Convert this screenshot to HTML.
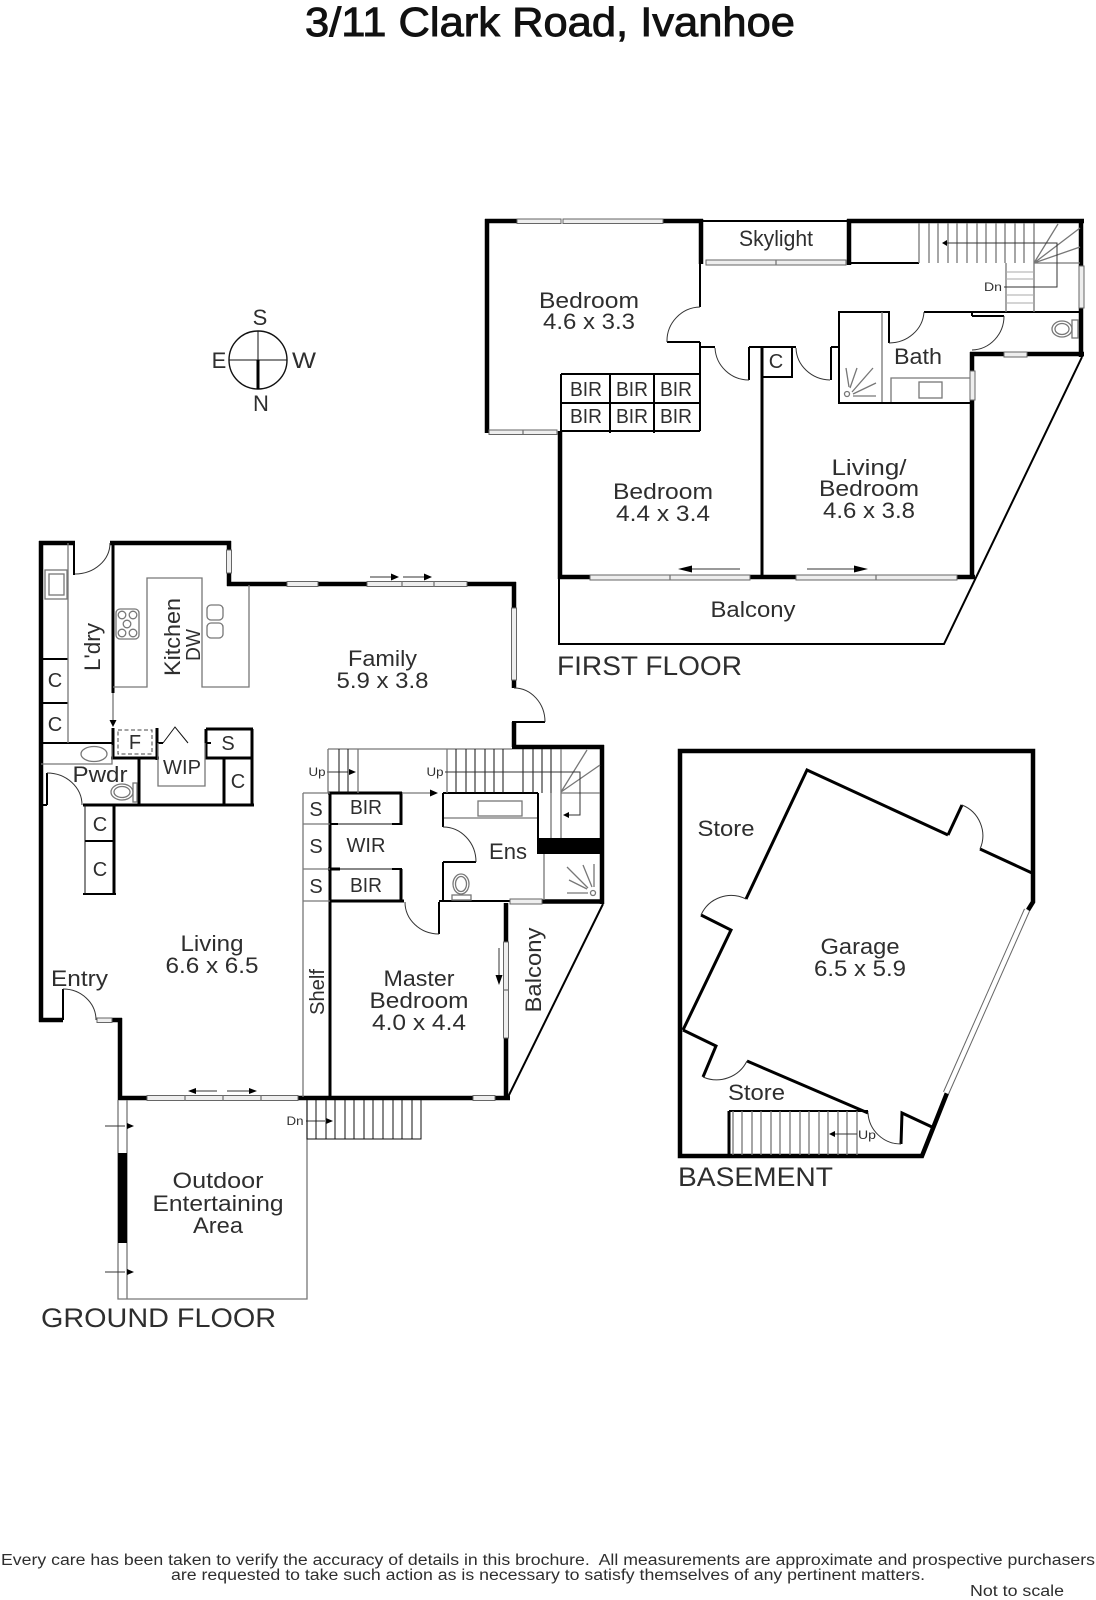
<!DOCTYPE html>
<html lang="en">
<head>
<meta charset="utf-8">
<title>3/11 Clark Road, Ivanhoe</title>
<style>
html,body{margin:0;padding:0;background:#fff}
svg{display:block}
text{font-family:"Liberation Sans",sans-serif;fill:#2e2e2e;text-anchor:middle}
.l{font-size:22px}
.s{font-size:20px}
.f{font-size:27px;text-anchor:start}
.u{font-size:12px}
.fn{font-size:15.5px;text-anchor:start}
.t{stroke:#000;stroke-width:4.5;fill:none}
.m{stroke:#000;stroke-width:3;fill:none}
.n{stroke:#000;stroke-width:2;fill:none}
.h{stroke:#111;stroke-width:1;fill:none}
.g{stroke:#777;stroke-width:1.3;fill:none}
.a{stroke:#333;stroke-width:1;fill:none}
.w{fill:#eee;stroke:#666;stroke-width:1}
.b{fill:#000;stroke:none}
</style>
</head>
<body>
<svg xmlns="http://www.w3.org/2000/svg" width="1096" height="1600" viewBox="0 0 1096 1600">
<rect width="1096" height="1600" fill="#fff"/>

<!-- Title -->
<text x="550" y="36" font-size="41" textLength="490" lengthAdjust="spacingAndGlyphs" style="fill:#111;stroke:#111;stroke-width:.9">3/11 Clark Road, Ivanhoe</text>

<!-- Compass -->
<circle cx="258" cy="360" r="29" fill="none" stroke="#111" stroke-width="1.4"/>
<path class="h" d="M229 360H287M258 331V360"/>
<path class="m" d="M258 360V389"/>
<text class="l" x="260" y="325">S</text>
<text class="l" x="219" y="368">E</text>
<text class="l" x="304" y="368" textLength="24" lengthAdjust="spacingAndGlyphs">W</text>
<text class="l" x="261" y="411">N</text>

<!-- ============ FIRST FLOOR ============ -->
<g>
<path class="t" d="M487 433V219M485 221H517M663 221H703M701 219V264M849 219V265M847 221H1084M1081 219V266M1081 308V357M970 354H1004M1027 354H1084M972 352V371M972 400V579M558 577H590M750 577H796M957 577H975M560 431V579"/>
<path class="n" d="M701 221H849M849 263H919M700 263V307M700 342V374M667 342H700M700 347H715M749 347V380M749 347H764M796 347H792M831 347V380M831 347H839M839 311V404M838 312H889M889 311V343M924 312H1080M838 403H972M972 311V316M972 316H1004M763 377H792V347H763"/>
<path class="m" d="M762 347V578"/>
<path class="n" d="M561 374H700M561 403H700M561 431H700M561 374V431M610 373V433M654 373V433M700 374V431"/>
<path class="n" d="M559 577V644H944L1082 357"/>
<!-- windows first floor -->
<rect class="w" x="517" y="219" width="44" height="4.5"/>
<rect class="w" x="563" y="219" width="100" height="4.5"/>
<rect class="w" x="706" y="260" width="140" height="5"/>
<path class="g" d="M776 260V265"/>
<rect class="w" x="489" y="430" width="68" height="4.5"/>
<path class="g" d="M523 430V434"/>
<rect class="w" x="1079" y="266" width="5" height="42"/>
<rect class="w" x="1004" y="352" width="23" height="5"/>
<rect class="w" x="970" y="371" width="5" height="29"/>
<rect class="w" x="590" y="575" width="160" height="5"/>
<path class="g" d="M670 575V580"/>
<rect class="w" x="796" y="575" width="161" height="5"/>
<path class="g" d="M876 575V580"/>
<!-- arrows -->
<path class="a" d="M740 569H690M807 569H856"/>
<polygon class="b" points="678,569 692,565.5 692,572.5"/>
<polygon class="b" points="868,569 854,565.5 854,572.5"/>
<!-- doors -->
<path class="a" d="M700 307A34 34 0 0 0 667 342M715 348A34 34 0 0 0 749 380M796 348A35 33 0 0 0 830 380M889 343A35 33 0 0 0 924 312M1004 316A33 34 0 0 1 972 350"/>
<!-- stairs -->
<path class="g" d="M919 223V263M929 223V263M938 223V263M948 223V263M957 223V263M967 223V263M977 223V263M986 223V263M996 223V263M1005 223V263M1015 223V263M1024 223V263M1034 223V263M1034 263L1058 224M1034 263L1080 228M1034 263L1080 247M1034 263H1080M1006 263V312M1034 263V312"/>
<path stroke="#aaa" stroke-width="1" fill="none" d="M1006 272H1034M1006 279H1034M1006 287H1034M1006 295H1034M1006 303H1034"/>
<path class="a" d="M944 243H1057V287H1004"/>
<polygon class="b" points="942,243 947,240 947,246"/>
<text class="u" x="993" y="291" textLength="18" lengthAdjust="spacingAndGlyphs">Dn</text>
<!-- bath -->
<path class="g" d="M882 312V402M891 402V378H970"/>
<rect class="g" x="919" y="382" width="23" height="16"/>
<path class="g" d="M846 368L849 387M857 368L850 388M873 368L852 392M876 383L853 394M876 396H853"/>
<circle class="g" cx="847" cy="394" r="2.5"/>
<ellipse class="g" cx="1062" cy="329" rx="10" ry="8"/>
<ellipse class="g" cx="1062" cy="329" rx="7" ry="5.5"/>
<rect class="g" x="1072" y="320" width="6" height="18"/>
<!-- text -->
<text class="l" x="776" y="246" font-size="20" textLength="74" lengthAdjust="spacingAndGlyphs">Skylight</text>
<text class="l" x="589" y="308" textLength="100" lengthAdjust="spacingAndGlyphs">Bedroom</text>
<text class="l" x="589" y="329" textLength="92" lengthAdjust="spacingAndGlyphs">4.6 x 3.3</text>
<text class="s" x="586" y="396" textLength="32" lengthAdjust="spacingAndGlyphs">BIR</text>
<text class="s" x="632" y="396" textLength="32" lengthAdjust="spacingAndGlyphs">BIR</text>
<text class="s" x="676" y="396" textLength="32" lengthAdjust="spacingAndGlyphs">BIR</text>
<text class="s" x="586" y="423" textLength="32" lengthAdjust="spacingAndGlyphs">BIR</text>
<text class="s" x="632" y="423" textLength="32" lengthAdjust="spacingAndGlyphs">BIR</text>
<text class="s" x="676" y="423" textLength="32" lengthAdjust="spacingAndGlyphs">BIR</text>
<text class="s" x="776" y="368">C</text>
<text class="l" x="918" y="364" textLength="48" lengthAdjust="spacingAndGlyphs">Bath</text>
<text class="l" x="663" y="499" textLength="100" lengthAdjust="spacingAndGlyphs">Bedroom</text>
<text class="l" x="663" y="521" textLength="94" lengthAdjust="spacingAndGlyphs">4.4 x 3.4</text>
<text class="l" x="869" y="475" textLength="75" lengthAdjust="spacingAndGlyphs">Living/</text>
<text class="l" x="869" y="496" textLength="100" lengthAdjust="spacingAndGlyphs">Bedroom</text>
<text class="l" x="869" y="518" textLength="92" lengthAdjust="spacingAndGlyphs">4.6 x 3.8</text>
<text class="l" x="753" y="617" textLength="85" lengthAdjust="spacingAndGlyphs">Balcony</text>
<text class="f" x="557" y="675" textLength="185" lengthAdjust="spacingAndGlyphs">FIRST FLOOR</text>
</g>

<!-- ============ GROUND FLOOR ============ -->
<g>
<path class="t" d="M41 541V1022M39 1020H63M112 1020H122M120 1018V1100M118 1098H147M298 1098H473M495 1098H510M506 903V942M506 1038V1100"/>
<path class="t" d="M39 543H75M110 543H231M229 541V550M229 573V586M227 584H287M318 584H367M467 584H516M514 582V608M514 680V688M514 722V747M512 747H604M602 745V904M542 901.5H604"/>
<rect class="b" x="537" y="838" width="63" height="16"/>
<path class="m" d="M113 543V693M113 728V758M111 758H159M157 728V760M139 758V805M83 805H254M114 805V895M224 758V805M252 729V806M206 729H253M206 729V758H252M330 793V1098M328 793H402M401 792V825M401 869V901M328 869H340M330 901H404"/>
<path class="n" d="M43 659H68M43 703H68M41 743H112M74 543V575M63 1020V989M47 773V805M42 805H47M83 894H116M85 841H114M512 722H545M443 793H538M538 793V838M443 793V827M443 862V901M443 862H476M439 902V934M439 901H510M163 743H157M205 743H211"/>
<!-- Thin outlines -->
<path class="n" d="M330 824H338M392 824H402M330 869H340M392 869H402"/>
<path class="h" d="M338 824H392M340 869H392M85 805V894"/>
<path class="g" d="M68 543V743M41 764H112V745M158 743V786H205V743M113 687H147V578H202V687H249V585M303 793H330M303 824H330M303 869H330M303 901H330M303 793V1097M328 749H512M444 818H537M544 854V900M118 1100V1299H307V1100M127 1100V1299"/>
<rect class="g" x="45" y="570" width="22" height="29"/>
<rect class="g" x="49" y="574" width="15" height="21"/>
<rect x="116" y="609" width="23" height="30" rx="4" class="g"/>
<circle class="g" cx="122" cy="615" r="3.8"/>
<circle class="g" cx="133" cy="615" r="3.8"/>
<circle class="g" cx="127" cy="624" r="3.8"/>
<circle class="g" cx="122" cy="633" r="3.8"/>
<circle class="g" cx="133" cy="633" r="3.8"/>
<rect class="g" x="207" y="605" width="16" height="15" rx="4"/>
<rect class="g" x="207" y="623" width="16" height="15" rx="4"/>
<rect x="118" y="730" width="34" height="24" fill="none" stroke="#444" stroke-width="1" stroke-dasharray="4 2.5"/>
<path class="g" d="M113 693V720"/>
<polygon class="b" points="109.500,720 116.500,720 113,727"/>
<path class="h" d="M163 743L175 727L188 743"/>
<ellipse class="g" cx="94" cy="754" rx="13" ry="7.5"/>
<ellipse class="g" cx="122" cy="792" rx="11" ry="8"/>
<ellipse class="g" cx="122" cy="792" rx="8" ry="5.5"/>
<rect class="g" x="133" y="783" width="4" height="19"/>
<!-- doors -->
<path class="a" d="M75 574A35 31 0 0 0 110 543M514 688A31 34 0 0 1 545 722M443 827A33 35 0 0 1 476 862M405 902A34 32 0 0 0 439 934M47 773A35 32 0 0 1 82 805M63 989A33 31 0 0 1 96 1020"/>
<!-- windows -->
<rect class="w" x="226.500" y="550" width="5" height="23"/>
<rect class="w" x="287" y="581.500" width="31" height="5"/>
<rect class="w" x="367" y="581.500" width="100" height="5"/>
<path class="g" d="M402 581.500V586.500M434 581.500V586.500"/>
<rect class="w" x="511.500" y="608" width="5" height="72"/>
<rect class="w" x="97" y="1018" width="15" height="4.500"/>
<rect class="w" x="147" y="1095.500" width="151" height="5"/>
<path class="g" d="M185 1095.500V1100.500M223 1095.500V1100.500M261 1095.500V1100.500"/>
<rect class="w" x="473" y="1095.500" width="22" height="5"/>
<rect class="w" x="510" y="899" width="32" height="5"/>
<rect class="w" x="503.500" y="942" width="5" height="96"/>
<path class="g" d="M503.500 990H508.500"/>
<!-- balcony -->
<path class="n" d="M603 904L508 1097"/>
<!-- arrows -->
<path class="a" d="M370 577H391M403 577H424M217 1091H196M227 1091H249M499 948V975M105 1126H125M105 1272H125M306 1121H325M327 772H348"/>
<polygon class="b" points="399,577 391,573.500 391,580.500"/>
<polygon class="b" points="432,577 424,573.500 424,580.500"/>
<polygon class="b" points="188,1091 196,1088 196,1094"/>
<polygon class="b" points="257,1091 249,1088 249,1094"/>
<polygon class="b" points="499,985 495.500,975 502.500,975"/>
<polygon class="b" points="134,1126 127,1123 127,1129"/>
<polygon class="b" points="134,1272 127,1269 127,1275"/>
<polygon class="b" points="333,1121 326,1118 326,1124"/>
<polygon class="b" points="356,772 349,769 349,775"/>
<polygon class="b" points="438,793 430,789.500 430,796.500"/>
<rect class="b" x="118" y="1153" width="9" height="90"/>
<path class="g" d="M403 793H430"/>
<!-- stairs -->
<path class="h" d="M339 749V793M348 749V793"/>
<path class="g" d="M328 749V793M358 749V793"/>
<path class="h" d="M456 749V793M466 749V793M475 749V793M485 749V793M494 749V793M503 749V793M523 749V793M533 749V793M542 749V793M551 749V793"/>
<path class="g" d="M447 749V793M561 749V838M551 793V838M561 792L587 750M561 792L600 765M561 793H600"/>
<path class="a" d="M445 772H580V815H568"/>
<polygon class="b" points="563,815 569,812 569,818"/>
<path class="h" d="M307 1100V1139H421V1100M316 1100V1139M326 1100V1139M335 1100V1139M345 1100V1139M354 1100V1139M364 1100V1139M373 1100V1139M383 1100V1139M393 1100V1139M402 1100V1139M412 1100V1139"/>
<!-- ensuite fixtures -->
<rect class="g" x="478" y="801" width="44" height="15"/>
<ellipse class="g" cx="461" cy="884" rx="8" ry="10"/>
<ellipse class="g" cx="461" cy="884" rx="5.500" ry="7.500"/>
<rect class="g" x="452" y="895" width="19" height="5"/>
<path class="g" d="M567 867L588 888M583 865L592 887M594 864V887M567 893H588M569 880L587 889"/>
<circle class="g" cx="593" cy="893" r="2.500"/>
<!-- text -->
<text class="s" x="55" y="687">C</text>
<text class="s" x="55" y="731">C</text>
<text class="s" x="100" y="831">C</text>
<text class="s" x="100" y="876">C</text>
<text class="s" x="238" y="788">C</text>
<text class="s" x="228" y="750">S</text>
<text class="s" x="135" y="749">F</text>
<text class="s" x="182" y="774" textLength="38" lengthAdjust="spacingAndGlyphs">WIP</text>
<text class="l" x="100" y="782" textLength="55" lengthAdjust="spacingAndGlyphs">Pwdr</text>
<text class="l" transform="translate(100 647) rotate(-90)" textLength="48" lengthAdjust="spacingAndGlyphs">L'dry</text>
<text class="l" transform="translate(180 637) rotate(-90)" textLength="78" lengthAdjust="spacingAndGlyphs">Kitchen</text>
<text class="s" transform="translate(200 645) rotate(-90)" textLength="32" lengthAdjust="spacingAndGlyphs">DW</text>
<text class="l" x="382.500" y="666" textLength="69" lengthAdjust="spacingAndGlyphs">Family</text>
<text class="l" x="382.500" y="688" textLength="92" lengthAdjust="spacingAndGlyphs">5.9 x 3.8</text>
<text class="u" x="317" y="776" textLength="17" lengthAdjust="spacingAndGlyphs">Up</text>
<text class="u" x="435" y="776" textLength="17" lengthAdjust="spacingAndGlyphs">Up</text>
<text class="s" x="316" y="816">S</text>
<text class="s" x="316" y="853">S</text>
<text class="s" x="316" y="893">S</text>
<text class="s" x="366" y="814" textLength="32" lengthAdjust="spacingAndGlyphs">BIR</text>
<text class="s" x="366" y="892" textLength="32" lengthAdjust="spacingAndGlyphs">BIR</text>
<text class="s" x="366" y="852" textLength="39" lengthAdjust="spacingAndGlyphs">WIR</text>
<text class="l" x="508" y="859" textLength="38" lengthAdjust="spacingAndGlyphs">Ens</text>
<text class="s" transform="translate(324 992) rotate(-90)" textLength="46" lengthAdjust="spacingAndGlyphs">Shelf</text>
<text class="l" transform="translate(541 970) rotate(-90)" textLength="85" lengthAdjust="spacingAndGlyphs">Balcony</text>
<text class="l" x="419" y="986" textLength="71" lengthAdjust="spacingAndGlyphs">Master</text>
<text class="l" x="419" y="1008" textLength="99" lengthAdjust="spacingAndGlyphs">Bedroom</text>
<text class="l" x="419" y="1030" textLength="94" lengthAdjust="spacingAndGlyphs">4.0 x 4.4</text>
<text class="l" x="212" y="951" textLength="63" lengthAdjust="spacingAndGlyphs">Living</text>
<text class="l" x="212" y="973" textLength="93" lengthAdjust="spacingAndGlyphs">6.6 x 6.5</text>
<text class="l" x="79.500" y="986" textLength="57" lengthAdjust="spacingAndGlyphs">Entry</text>
<text class="l" x="218" y="1188" textLength="91" lengthAdjust="spacingAndGlyphs">Outdoor</text>
<text class="l" x="218" y="1211" textLength="131" lengthAdjust="spacingAndGlyphs">Entertaining</text>
<text class="l" x="218" y="1233" textLength="50" lengthAdjust="spacingAndGlyphs">Area</text>
<text class="u" x="295" y="1125" textLength="17" lengthAdjust="spacingAndGlyphs">Dn</text>
<text class="f" x="41" y="1327" textLength="235" lengthAdjust="spacingAndGlyphs">GROUND FLOOR</text>
</g>

<!-- ============ BASEMENT ============ -->
<g>
<path class="t" d="M1033 873V902L1028 910M947 1093L922 1156H680V751H1033V873"/>
<path class="m" d="M980 849L1032 873M948 835L807 770L746 899M701 915L731 930L683 1030M683 1030L716 1046L703 1077M747 1061L868 1113M901 1144L902 1113L932 1127M948 835L962 805"/>
<path class="a" d="M962 805A33 33 0 0 1 980 849M746 899A33 33 0 0 0 701 915M703 1077A34 34 0 0 0 747 1061M868 1113A33 33 0 0 0 901 1144"/>
<path d="M1027 910L946 1093" stroke="#666" stroke-width="6.500" fill="none"/>
<path d="M1027 910L946 1093" stroke="#fff" stroke-width="4.500" fill="none"/>
<path class="n" d="M729 1111H868"/>
<path class="m" d="M729 1111V1156"/>
<path class="g" d="M733 1111V1155M742 1111V1155M752 1111V1155M761 1111V1155M771 1111V1155M780 1111V1155M790 1111V1155M800 1111V1155M809 1111V1155M819 1111V1155M828 1111V1155M838 1111V1155M847 1111V1155M857 1111V1155"/>
<path class="a" d="M857 1134H835"/>
<polygon class="b" points="829,1134 835,1131 835,1137"/>
<text class="u" x="867" y="1139" textLength="18" lengthAdjust="spacingAndGlyphs">Up</text>
<text class="l" x="726" y="836" textLength="57" lengthAdjust="spacingAndGlyphs">Store</text>
<text class="l" x="756.500" y="1100" textLength="57" lengthAdjust="spacingAndGlyphs">Store</text>
<text class="l" x="860" y="954" textLength="79" lengthAdjust="spacingAndGlyphs">Garage</text>
<text class="l" x="860" y="976" textLength="92" lengthAdjust="spacingAndGlyphs">6.5 x 5.9</text>
<text class="f" x="678" y="1186" textLength="155" lengthAdjust="spacingAndGlyphs">BASEMENT</text>
</g>

<!-- Footer -->
<text class="fn" x="1" y="1565" textLength="1094" lengthAdjust="spacingAndGlyphs" xml:space="preserve">Every care has been taken to verify the accuracy of details in this brochure.  All measurements are approximate and prospective purchasers</text>
<text class="fn" x="171" y="1580" textLength="754" lengthAdjust="spacingAndGlyphs">are requested to take such action as is necessary to satisfy themselves of any pertinent matters.</text>
<text class="fn" x="970" y="1596" textLength="94" lengthAdjust="spacingAndGlyphs">Not to scale</text>
</svg>
</body>
</html>
